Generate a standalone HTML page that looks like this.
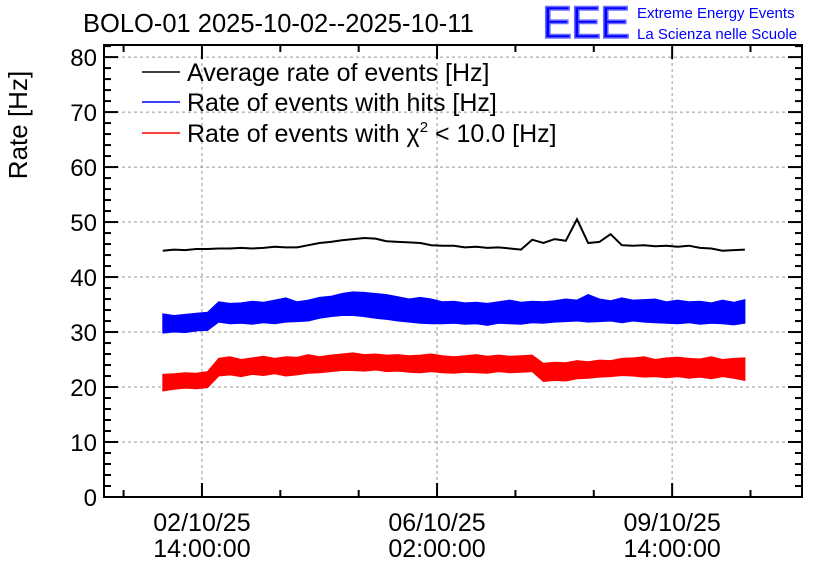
<!DOCTYPE html>
<html><head><meta charset="utf-8"><style>
body{margin:0;background:#fff;}
svg{display:block;font-family:"Liberation Sans",sans-serif;}
</style></head><body>
<svg id="c" width="836" height="572" viewBox="0 0 836 572">
<rect width="836" height="572" fill="#fff"/>
<text x="83" y="32" font-size="25.5">BOLO-01 2025-10-02--2025-10-11</text>
<g>
<text x="542" y="38" font-size="45" fill="#0000ff" stroke="#6b6bff" stroke-width="1.5" letter-spacing="-1">EEE</text>
<text x="637" y="18" font-size="15" fill="#0000ff">Extreme Energy Events</text>
<text x="637" y="39" font-size="15" fill="#0000ff">La Scienza nelle Scuole</text>
</g>
<text transform="translate(27,125) rotate(-90)" text-anchor="middle" font-size="26">Rate [Hz]</text>
<g id="grid"></g><g id="data"></g><g id="axes"></g>
<g font-size="25">
<g><line x1="142" y1="72" x2="180" y2="72" stroke="#000" stroke-width="1.5"/><text x="187" y="81">Average rate of events [Hz]</text></g>
<g><line x1="142" y1="102" x2="180" y2="102" stroke="#0000ff" stroke-width="1.5"/><text x="187" y="111">Rate of events with hits [Hz]</text></g>
<g><line x1="142" y1="133" x2="180" y2="133" stroke="#ff0000" stroke-width="1.5"/><text x="187" y="142">Rate of events with χ<tspan dy="-10" font-size="15">2</tspan><tspan dy="10"> &lt; 10.0 [Hz]</tspan></text></g>
</g>
</svg>
<script>
const hours=[];for(let h=0;h<=208;h+=4)hours.push(h);
const blackVals=[44.8,45,44.9,45.1,45.1,45.2,45.2,45.3,45.2,45.3,45.5,45.4,45.4,45.8,46.2,46.4,46.7,46.9,47.1,47.0,46.5,46.4,46.3,46.2,45.8,45.7,45.7,45.4,45.5,45.3,45.4,45.2,45.0,46.8,46.2,46.9,46.6,50.5,46.2,46.4,47.8,45.8,45.7,45.8,45.6,45.7,45.5,45.7,45.3,45.2,44.8,44.9,45.0];
const blueHi=[33.3,33.0,33.2,33.4,33.6,35.5,35.2,35.3,35.6,35.4,35.8,36.2,35.5,35.8,36.3,36.5,37.0,37.3,37.2,37.0,36.8,36.4,36.0,36.3,36.0,35.5,35.6,35.3,35.4,35.2,35.5,35.8,35.4,35.6,35.5,35.7,36.0,35.8,36.8,36.0,35.7,36.2,35.8,35.9,36.0,35.5,35.8,35.5,35.6,35.3,35.8,35.4,35.9];
const blueLo=[29.8,30.0,29.9,30.2,30.3,31.8,31.5,31.6,31.4,31.7,31.5,31.8,31.9,32.0,32.5,32.8,33.0,33.0,32.8,32.5,32.3,32.0,31.8,31.6,31.5,31.5,31.6,31.4,31.5,31.2,31.6,31.5,31.4,31.7,31.6,31.8,31.9,32.0,31.8,31.9,32.0,31.7,32.0,31.8,31.7,31.6,31.5,31.7,31.4,31.6,31.5,31.3,31.6];
const redHi=[22.3,22.4,22.6,22.5,22.8,25.2,25.5,25.0,25.3,25.6,25.2,25.5,25.4,25.9,25.5,25.8,26.0,26.2,25.9,26.0,25.8,25.9,25.7,25.8,26.0,25.7,25.5,25.7,25.9,25.6,25.8,25.6,25.7,25.8,24.3,24.5,24.4,24.8,24.6,24.9,24.8,25.2,25.3,25.5,25.0,25.3,25.4,25.2,25.1,25.5,25.0,25.2,25.3];
const redLo=[19.3,19.6,19.8,19.7,19.9,22.0,22.2,21.9,22.3,22.1,22.4,22.0,22.2,22.5,22.6,22.8,23.0,23.0,22.9,23.1,22.8,22.9,22.7,22.6,22.8,22.6,22.5,22.7,22.6,22.5,22.8,22.6,22.7,22.8,21.0,21.2,21.1,21.5,21.6,21.8,21.9,22.1,22.0,21.8,21.9,21.7,21.9,21.6,21.8,21.5,21.9,21.6,21.2];
const yTicks=[0,10,20,30,40,50,60,70,80];
const xMajorHours=[14,98,182];
const xLabels1=["02/10/25","06/10/25","09/10/25"];
const xLabels2=["14:00:00","02:00:00","14:00:00"];
const X0=104,X1=802,Y0=497,Y1=45,H0=-21,HMAX=228.4,VMAX=82.2;
const sx=h=>X0+(h-H0)/(HMAX-H0)*(X1-X0);
const sy=v=>Y0-v/VMAX*(Y0-Y1);
const NS="http://www.w3.org/2000/svg";
function mk(p,t,a){const e=document.createElementNS(NS,t);for(const k in a)e.setAttribute(k,a[k]);p.appendChild(e);return e;}
const grid=document.getElementById('grid'),data=document.getElementById('data'),axes=document.getElementById('axes');
yTicks.forEach(v=>{if(v>0){const g=mk(grid,'line',{x1:X0,x2:X1,y1:sy(v),y2:sy(v),stroke:'#999','stroke-dasharray':'3,3'});

}
const t=mk(axes,'text',{x:97,y:sy(v)+9,'text-anchor':'end','font-size':24});t.textContent=v;

});
for(let v=0;v<=82;v+=2){const L=(v%10===0)?14:7;
mk(axes,'line',{x1:X0,x2:X0+L,y1:sy(v),y2:sy(v),stroke:'#000','stroke-width':2});
mk(axes,'line',{x1:X1,x2:X1-L,y1:sy(v),y2:sy(v),stroke:'#000','stroke-width':2});}
xMajorHours.forEach((h,i)=>{const g=mk(grid,'line',{x1:sx(h),x2:sx(h),y1:Y1,y2:Y0,stroke:'#999','stroke-dasharray':'3,3'});


const t=mk(axes,'text',{x:sx(h),y:531,'text-anchor':'middle','font-size':25});t.textContent=xLabels1[i];


const t2=mk(axes,'text',{x:sx(h),y:557,'text-anchor':'middle','font-size':25});t2.textContent=xLabels2[i];

});
for(let h=14-28*1;h<=HMAX;h+=28){if(h<H0)continue;const maj=xMajorHours.includes(h);const L=maj?14:7;
mk(axes,'line',{x1:sx(h),x2:sx(h),y1:Y0,y2:Y0-L,stroke:'#000','stroke-width':2});
mk(axes,'line',{x1:sx(h),x2:sx(h),y1:Y1,y2:Y1+L,stroke:'#000','stroke-width':2});}
mk(axes,'rect',{x:X0,y:Y1,width:X1-X0,height:Y0-Y1,fill:'none',stroke:'#000','stroke-width':2});
function band(hi,lo,col,name){let d='';hours.forEach((h,i)=>{d+=(i?'L':'M')+sx(h).toFixed(1)+','+sy(hi[i]).toFixed(1);});
for(let i=hours.length-1;i>=0;i--)d+='L'+sx(hours[i]).toFixed(1)+','+sy(lo[i]).toFixed(1);
const p=mk(data,'path',{d:d+'Z',fill:col,stroke:col,'stroke-width':1});

}
band(blueHi,blueLo,'#0000ff','hits-rate-series');
band(redHi,redLo,'#ff0000','chi2-rate-series');
const bl=mk(data,'polyline',{points:hours.map((h,i)=>sx(h).toFixed(1)+','+sy(blackVals[i]).toFixed(1)).join(' '),fill:'none',stroke:'#000','stroke-width':2});


</script>
</body></html>
